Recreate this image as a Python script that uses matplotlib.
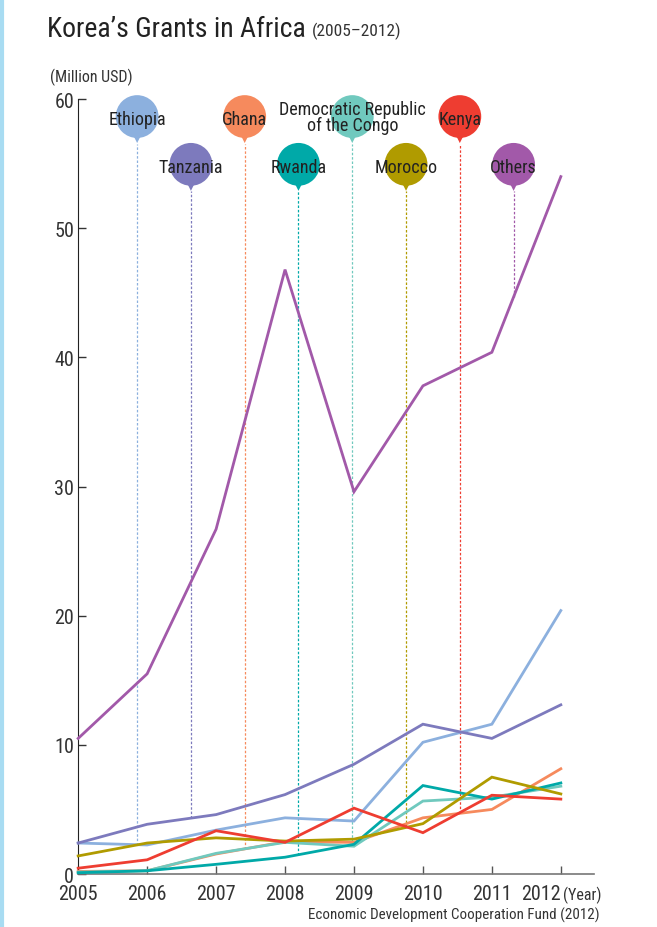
import numpy as np
import matplotlib.pyplot as plt

# fuente estrecha, con respaldo
plt.rcParams['font.family'] = ['Roboto Condensed', 'Archivo Narrow',
                               'PT Sans Narrow', 'Barlow Condensed',
                               'DejaVu Sans']

years = [2005, 2006, 2007, 2008, 2009, 2010, 2011, 2012]

countries = ['Ethiopia', 'Tanzania', 'Ghana', 'Rwanda',
             'Democratic Republic\nof the Congo', 'Morocco', 'Kenya', 'Others']

ethiopia = [2.4, 2.25, 3.4, 4.35, 4.1, 10.2, 11.6, 20.4]
tanzania = [2.4, 3.85, 4.6, 6.15, 8.5, 11.6, 10.5, 13.1]
ghana = [0.2, 0.25, 1.55, 2.5, 2.45, 4.35, 5.0, 8.15]
rwanda = [0.1, 0.25, 0.75, 1.3, 2.3, 6.85, 5.8, 7.05]
congo = [0.15, 0.25, 1.6, 2.45, 2.15, 5.65, 5.95, 6.8]
morocco = [1.4, 2.4, 2.8, 2.55, 2.7, 3.9, 7.5, 6.2]
kenya = [0.45, 1.1, 3.35, 2.45, 5.1, 3.2, 6.1, 5.8]
others = [10.5, 15.5, 26.7, 46.8, 29.6, 37.8, 40.4, 54.0]

series = [ethiopia, tanzania, ghana, rwanda, congo, morocco, kenya, others]
colores = ['#8cb0de', '#7d7abd', '#f68a5d', '#00a9a8',
           '#70c9be', '#b09b00', '#ee3d31', '#a259a9']

fig = plt.figure(figsize=(6.57, 9.28), dpi=100)
ax = fig.add_axes([0.119, 0.0571, 0.785, 0.835])

# orden de dibujo de las lineas
orden = [0, 1, 2, 4, 3, 5, 6, 7]
for i in orden:
    ax.plot(years, series[i], color=colores[i], lw=2.0, zorder=3,
            solid_joinstyle='miter', clip_on=False)

# globos con linea punteada hasta la serie
globo_x = 2005.855 + 0.78 * np.arange(8)
for i, nombre in enumerate(countries):
    bx = globo_x[i]
    cy = 58.65 if i % 2 == 0 else 54.95
    tip = cy - 2.1
    yv = np.interp(bx, years, series[i])
    ax.plot([bx, bx], [yv, tip], color=colores[i], lw=0.9,
            ls=(0, (2, 1.5)), zorder=2, clip_on=False)
    ax.scatter([bx], [cy], s=950, color=colores[i], edgecolors='none',
               zorder=4, clip_on=False)
    ax.scatter([bx], [cy - 1.8], s=22, marker='v', color=colores[i],
               edgecolors='none', zorder=4, clip_on=False)
    off = 0.0 if '\n' in nombre else -0.2
    ax.text(bx, cy + off, nombre, ha='center', va='center', fontsize=13,
            color='#222222', zorder=5, linespacing=0.85)

ax.set_xlim(2005, 2012.48)
ax.set_ylim(0, 60)
ax.set_yticks([0, 10, 20, 30, 40, 50, 60])
ax.set_xticks(years)
ax.set_xticklabels([str(y) for y in years[:-1]] + [''])
ax.tick_params(axis='both', direction='in', length=6, width=1,
               labelsize=14.5, labelcolor='#333333', colors='#333333')
ax.tick_params(axis='x', pad=7, colors='#555555', labelcolor='#333333')
ax.tick_params(axis='y', pad=3)

for s in ['top', 'right']:
    ax.spines[s].set_visible(False)
ax.spines['left'].set_color('#222222')
ax.spines['bottom'].set_color('#777777')
ax.spines['bottom'].set_linewidth(1.2)

# ultima etiqueta del eje x con la unidad
ax.annotate('2012', xy=(2012, 0), xytext=(-14.5, -7), textcoords='offset points',
            ha='center', va='top', fontsize=14.5, color='#333333',
            annotation_clip=False)
ax.annotate('(Year)', xy=(2012, 0), xytext=(1.5, -8.5), textcoords='offset points',
            ha='left', va='top', fontsize=11.5, color='#333333',
            annotation_clip=False)

titulo = fig.text(0.072, 0.968, 'Korea\u2019s Grants in Africa', fontsize=20,
                  color='#222222', va='center', ha='left')
ax.annotate('(2005\u20132012)', xy=(1, 0.12), xycoords=titulo, xytext=(4, 0),
            textcoords='offset points', fontsize=12.5, color='#333333',
            va='bottom', ha='left', annotation_clip=False)
fig.text(0.076, 0.917, '(Million USD)', fontsize=11.5, color='#333333',
         va='center', ha='left')
fig.text(0.912, 0.014, 'Economic Development Cooperation Fund (2012)',
         fontsize=10.8, color='#333333', va='center', ha='right')

# borde izquierdo celeste
fig.add_artist(plt.Line2D([0.003, 0.003], [0, 1], color='#a8dcf2', lw=3,
                          transform=fig.transFigure))

plt.savefig('out.png', dpi=100)
